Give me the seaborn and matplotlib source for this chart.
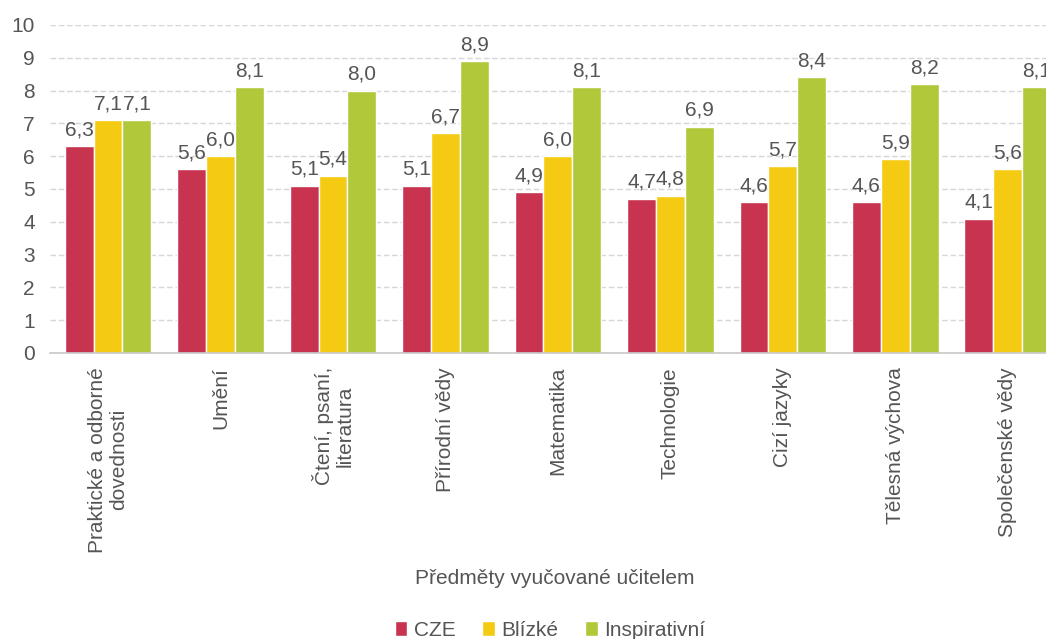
import matplotlib
matplotlib.use("Agg")
import matplotlib.pyplot as plt
import seaborn as sns
import pandas as pd

# Subjects taught by the teacher
subjects = [
    "Praktické a odborné\ndovednosti",
    "Umění",
    "Čtení, psaní,\nliteratura",
    "Přírodní vědy",
    "Matematika",
    "Technologie",
    "Cizí jazyky",
    "Tělesná výchova",
    "Společenské vědy",
]
series_names = ["CZE", "Blízké", "Inspirativní"]
cze = [6.3, 5.6, 5.1, 5.1, 4.9, 4.7, 4.6, 4.6, 4.1]
blizke = [7.1, 6.0, 5.4, 6.7, 6.0, 4.8, 5.7, 5.9, 5.6]
inspirativni = [7.1, 8.1, 8.0, 8.9, 8.1, 6.9, 8.4, 8.2, 8.1]
y_ticks = list(range(0, 11))
x_title = "Předměty vyučované učitelem"

colors = ["#C8344F", "#F4CB12", "#B2C83B"]
text_color = "#555555"

sns.set_theme(style="white")
plt.rcParams["font.family"] = ["Liberation Sans", "DejaVu Sans"]

df = pd.DataFrame({
    "subject": subjects * 3,
    "series": [s for s in series_names for _ in subjects],
    "value": cze + blizke + inspirativni,
})

fig = plt.figure(figsize=(10.46, 6.39), dpi=100)
ax = fig.add_axes([50 / 1046, 1 - 353 / 639, 1 - 50 / 1046, (353 - 25) / 639])

sns.barplot(data=df, x="subject", y="value", hue="series", order=subjects,
            hue_order=series_names, palette=colors, width=0.77,
            saturation=1, ax=ax, legend=True, errorbar=None)

# Value labels with a decimal comma
for container in ax.containers:
    labels = [f"{bar.get_height():.1f}".replace(".", ",") for bar in container]
    ax.bar_label(container, labels=labels, padding=5, fontsize=15,
                 color=text_color)

ax.set_ylim(0, 10)
ax.set_yticks(y_ticks)
ax.set_xlim(-0.516, 8.34)
ax.yaxis.grid(True, color="#d6d6d6", linestyle=(0, (4, 2)), linewidth=1)
ax.set_axisbelow(True)
for side in ["top", "right", "left"]:
    ax.spines[side].set_visible(False)
ax.spines["bottom"].set_color("#c8c8c8")
ax.spines["bottom"].set_linewidth(1.2)

ax.tick_params(axis="both", length=0, labelsize=15, labelcolor=text_color)
ax.tick_params(axis="y", pad=11)
ax.tick_params(axis="x", pad=10)
for lbl in ax.get_xticklabels():
    lbl.set_rotation(90)
    lbl.set_multialignment("center")
    lbl.set_linespacing(1.1)

ax.set_ylabel("")
ax.set_xlabel("")
fig.text(555 / 1046, 1 - 578 / 639, x_title, fontsize=15, color=text_color,
         ha="center", va="center")

handles, labels = ax.get_legend_handles_labels()
ax.legend_.remove()
fig.legend(handles, labels, loc="center", bbox_to_anchor=(550 / 1046, 1 - 630 / 639),
           ncol=3, frameon=False, fontsize=15, handlelength=0.6, handleheight=0.7,
           handletextpad=0.3, columnspacing=1.3, labelcolor=text_color)

fig.savefig("out.png", dpi=100)
